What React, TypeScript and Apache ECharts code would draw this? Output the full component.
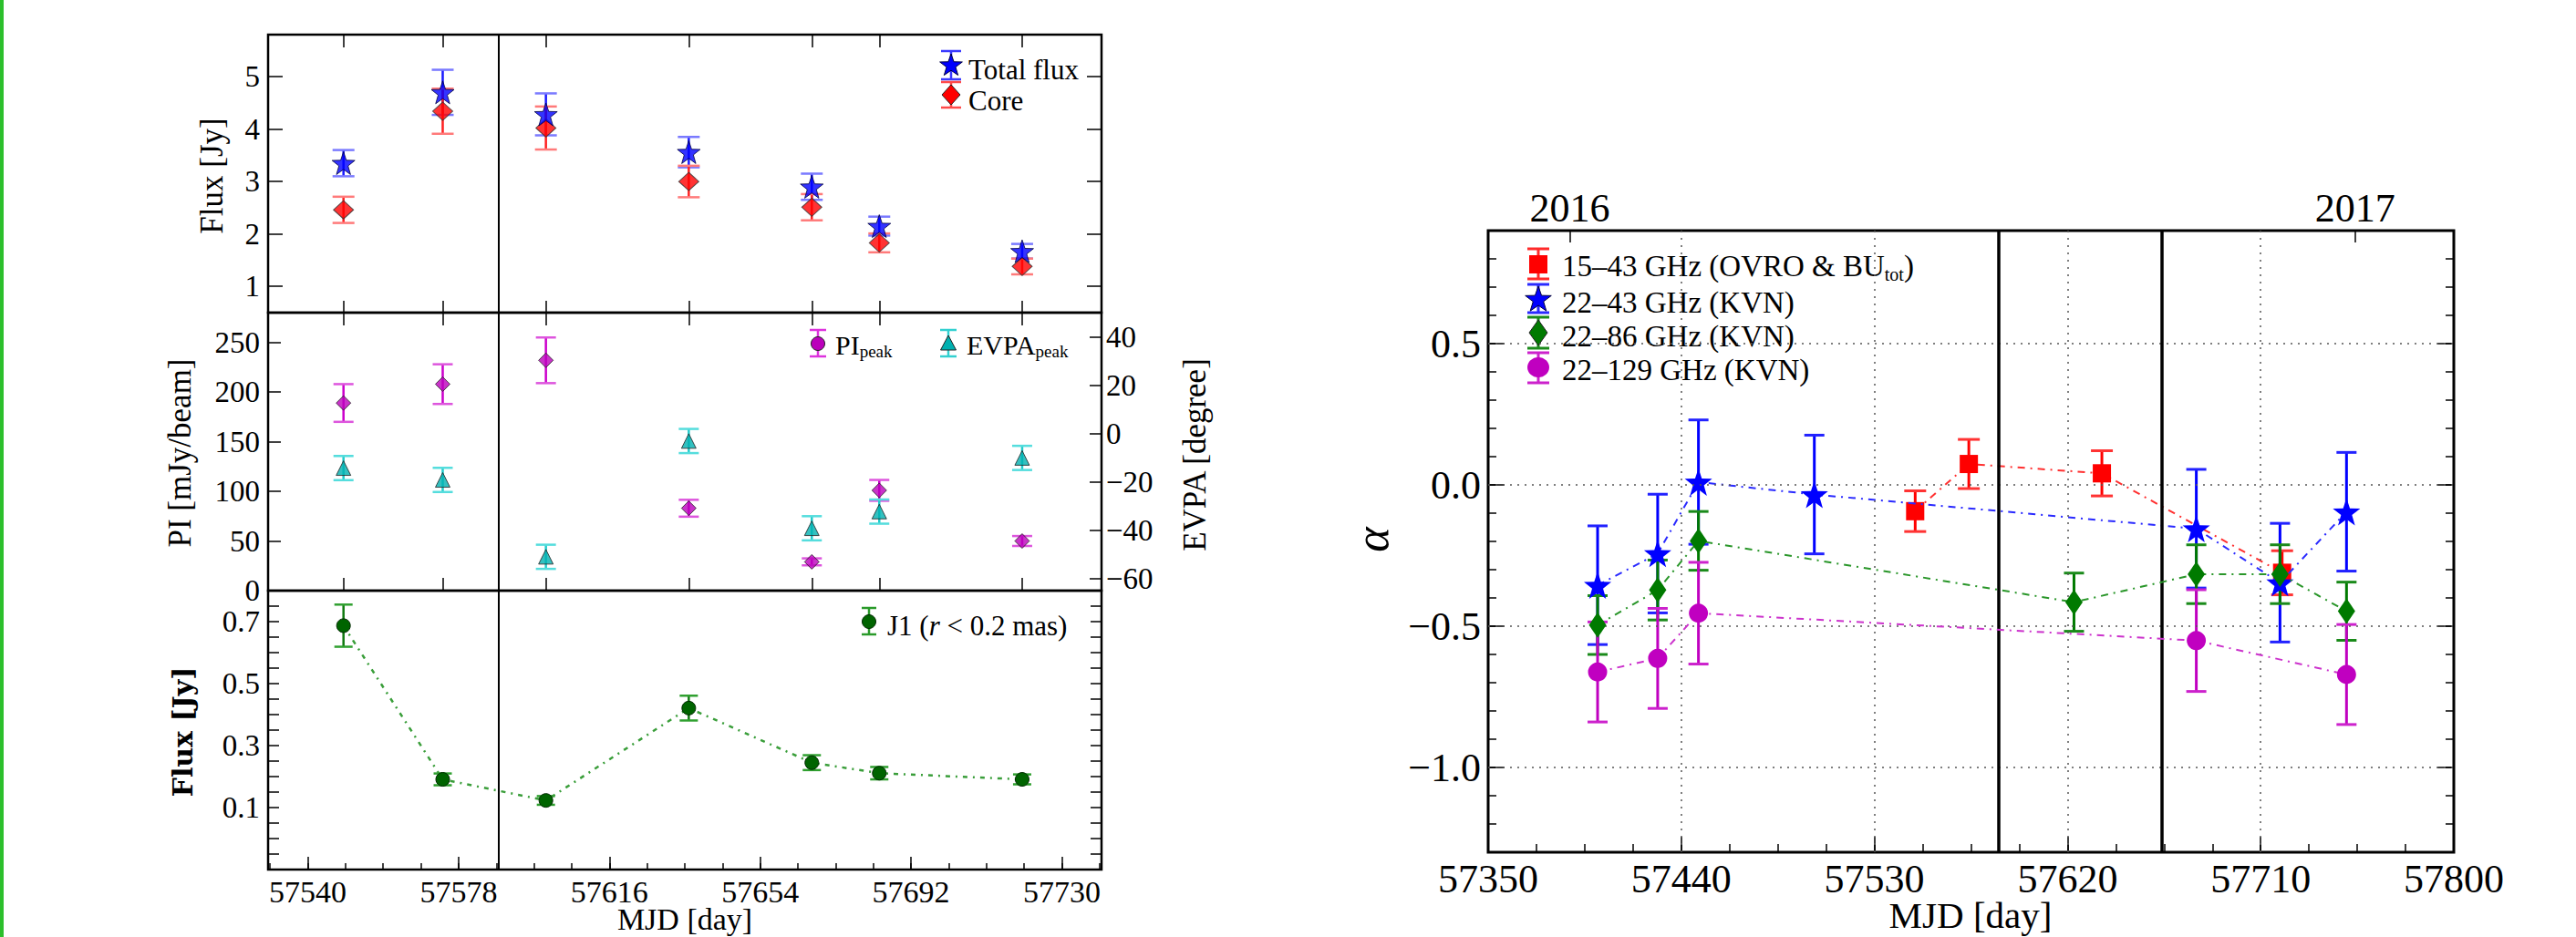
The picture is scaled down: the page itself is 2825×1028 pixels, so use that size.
import React, { useEffect, useRef } from 'react';
import * as echarts from 'echarts';

// ---------------- Left figure data ----------------
const epochs = [57549, 57574, 57600, 57636, 57667, 57684, 57720];
const totalFlux = [3.35, 4.70, 4.28, 3.56, 2.90, 2.15, 1.67];
const totalFluxErr = [0.25, 0.43, 0.40, 0.29, 0.25, 0.18, 0.14];
const coreFlux = [2.46, 4.34, 4.02, 3.00, 2.51, 1.83, 1.38];
const coreFluxErr = [0.25, 0.43, 0.41, 0.30, 0.25, 0.18, 0.15];
const piPeak = [189, 208, 232, 83, 29, 101, 50];
const piPeakErr = [19, 20, 23, 8.5, 3.5, 10.5, 5];
const evpaPeak = [-14.3, -19.2, -51.0, -3.1, -39.2, -32.3, -10.1];
const evpaPeakErr = [5, 5, 5, 5, 5, 5, 5];
const j1Flux = [0.687, 0.191, 0.123, 0.421, 0.245, 0.211, 0.191];
const j1FluxErr = [0.068, 0.019, 0.014, 0.040, 0.024, 0.020, 0.016];
const leftEventMjd = [57588];

const leftXTicks = [57540, 57578, 57616, 57654, 57692, 57730];
const leftXMinorStep = 9.5;
const fluxTicks = [1, 2, 3, 4, 5];
const piTicks = [0, 50, 100, 150, 200, 250];
const evpaTicks = [-60, -40, -20, 0, 20, 40];
const j1Labels = [0.1, 0.3, 0.5, 0.7];
const j1MinorStep = 0.05;

// ---------------- Right figure data ----------------
const mjdOvro = [57549, 57574, 57636, 57720];
const alphaOvro = [-0.093, 0.074, 0.041, -0.311];
const alphaOvroErr = [0.072, 0.087, 0.080, 0.078];
const mjdKvn43 = [57401, 57429, 57448, 57502, 57680, 57719, 57750];
const alphaKvn43 = [-0.355, -0.243, 0.010, -0.034, -0.155, -0.346, -0.095];
const alphaKvn43Err = [0.21, 0.21, 0.22, 0.21, 0.21, 0.21, 0.21];
const mjdKvn86 = [57401, 57429, 57448, 57623, 57680, 57719, 57750];
const alphaKvn86 = [-0.496, -0.372, -0.198, -0.415, -0.316, -0.316, -0.447];
const alphaKvn86Err = [0.104, 0.106, 0.104, 0.103, 0.104, 0.104, 0.103];
const mjdKvn129 = [57401, 57429, 57448, 57680, 57750];
const alphaKvn129 = [-0.662, -0.614, -0.454, -0.551, -0.671];
const alphaKvn129Err = [0.177, 0.177, 0.180, 0.180, 0.177];
const rightEventMjd = [57588, 57664];
const rightXTicks = [57350, 57440, 57530, 57620, 57710, 57800];
const rightXMinorStep = 22.5;
const gridXLines = [57440, 57530, 57620, 57710];
const alphaTicks = [-1.0, -0.5, 0.0, 0.5];
const alphaMinorStep = 0.1;
const yearTicks = [57388, 57754];
const yearLabels = ['2016', '2017'];

const FONT = "'Liberation Serif', 'Times New Roman', serif";
const STAR_PATH = (() => {
  const pts: string[] = [];
  for (let i = 0; i < 10; i++) {
    const r = i % 2 === 0 ? 50 : 20;
    const a = -Math.PI / 2 + (i * Math.PI) / 5;
    pts.push(`${(50 + r * Math.cos(a)).toFixed(2)},${(52 + r * Math.sin(a)).toFixed(2)}`);
  }
  return 'path://M' + pts.join(' L') + ' Z';
})();

function steps(from: number, to: number, step: number) {
  const out: number[] = [];
  for (let v = from; v <= to + 1e-9; v += step) out.push(Math.round(v * 1000) / 1000);
  return out;
}

const minus = (v: number, d: number) => (v < 0 ? '\u2212' : '') + Math.abs(v).toFixed(d);

function tickAxis(o: any) {
  const fmt = o.fmt || ((v: number) => String(v));
  return {
    type: 'value',
    gridIndex: o.grid,
    position: o.position,
    min: o.min,
    max: o.max,
    axisLine: { show: false, onZero: false },
    splitLine: { show: false },
    axisTick: {
      show: true,
      inside: true,
      length: o.length,
      customValues: o.ticks,
      lineStyle: { color: '#000', width: 1.5 },
    },
    axisLabel: o.labels
      ? {
          show: true,
          customValues: o.labels,
          formatter: (v: number) => '{f|' + fmt(v) + '}',
          fontFamily: FONT,
          fontSize: o.fontSize,
          color: '#000',
          margin: o.margin,
          rich: {
            f: { fontFamily: FONT, fontSize: o.fontSize, color: '#000', lineHeight: o.fontSize },
          },
        }
      : { show: false },
  };
}

function errSeries(xs: number[], ys: number[], es: number[], xi: number, yi: number, color: string, capColor: string, capW: number, lw: number) {
  return {
    type: 'custom',
    xAxisIndex: xi,
    yAxisIndex: yi,
    z: 2,
    silent: true,
    data: xs.map((x, i) => [x, ys[i], es[i]]),
    encode: { x: 0, y: 1 },
    renderItem: (_p: any, api: any) => {
      const x = api.value(0), y = api.value(1), e = api.value(2);
      const lo = api.coord([x, y - e]);
      const hi = api.coord([x, y + e]);
      const h = capW / 2;
      return {
        type: 'group',
        children: [
          { type: 'line', shape: { x1: lo[0], y1: lo[1], x2: hi[0], y2: hi[1] }, style: { stroke: color, lineWidth: lw } },
          { type: 'line', shape: { x1: lo[0] - h, y1: lo[1], x2: lo[0] + h, y2: lo[1] }, style: { stroke: capColor, lineWidth: lw } },
          { type: 'line', shape: { x1: hi[0] - h, y1: hi[1], x2: hi[0] + h, y2: hi[1] }, style: { stroke: capColor, lineWidth: lw } },
        ],
      };
    },
  };
}

function legendBar(cx: number, y1: number, y2: number, capW: number, color: string, lw = 2.5) {
  const h = capW / 2;
  return [
    { type: 'line', shape: { x1: cx, y1, x2: cx, y2 }, style: { stroke: color, lineWidth: lw } },
    { type: 'line', shape: { x1: cx - h, y1, x2: cx + h, y2: y1 }, style: { stroke: color, lineWidth: lw } },
    { type: 'line', shape: { x1: cx - h, y1: y2, x2: cx + h, y2 }, style: { stroke: color, lineWidth: lw } },
  ];
}

function starPoly(cx: number, cy: number, R: number, fill: string) {
  const pts: number[][] = [];
  for (let i = 0; i < 10; i++) {
    const r = i % 2 === 0 ? R : R * 0.4;
    const a = -Math.PI / 2 + (i * Math.PI) / 5;
    pts.push([cx + r * Math.cos(a), cy + r * Math.sin(a)]);
  }
  return { type: 'polygon', shape: { points: pts }, style: { fill, stroke: '#000040', lineWidth: 1 } };
}

function diamondPoly(cx: number, cy: number, hw: number, hh: number, fill: string) {
  return {
    type: 'polygon',
    shape: { points: [[cx, cy - hh], [cx + hw, cy], [cx, cy + hh], [cx - hw, cy]] },
    style: { fill, stroke: '#222', lineWidth: 1 },
  };
}

function vText(x: number, y: number, text: string, size: number, extra: any = {}) {
  return {
    type: 'text',
    x,
    y,
    rotation: Math.PI / 2,
    style: {
      text,
      fontFamily: FONT,
      fontSize: size,
      fill: '#000',
      align: 'center',
      verticalAlign: 'middle',
      ...extra,
    },
  };
}

function hText(x: number, y: number, text: string, size: number, extra: any = {}) {
  return {
    type: 'text',
    x,
    y,
    style: {
      text,
      fontFamily: FONT,
      fontSize: size,
      fill: '#000',
      align: 'left',
      verticalAlign: 'middle',
      ...extra,
    },
  };
}

function subRich(size: number) {
  return {
    m: { fontFamily: FONT, fontSize: size, lineHeight: size + 4 },
    s: { fontFamily: FONT, fontSize: Math.round(size * 0.62), lineHeight: 10, verticalAlign: 'bottom' },
    i: { fontFamily: FONT, fontSize: size, fontStyle: 'italic', lineHeight: size + 4 },
  };
}

function buildOption() {
  const L = { min: 57530, max: 57740 };
  const R = { min: 57350, max: 57800 };
  const leftMinor = steps(57540 - 9.5, 57740, leftXMinorStep);
  const j1Minor = steps(-0.05, 0.75, j1MinorStep);
  const rightMinor = steps(57350, 57800, rightXMinorStep);
  const alphaMinor = steps(-1.2, 0.8, alphaMinorStep);

  const xAxis = [
    tickAxis({ grid: 0, position: 'bottom', ...L, ticks: epochs, length: 13 }),
    tickAxis({ grid: 0, position: 'top', ...L, ticks: epochs, length: 14 }),
    tickAxis({ grid: 1, position: 'bottom', ...L, ticks: epochs, length: 14 }),
    tickAxis({ grid: 1, position: 'top', ...L, ticks: epochs, length: 14 }),
    tickAxis({ grid: 2, position: 'bottom', ...L, ticks: leftXTicks, length: 14, labels: leftXTicks, fontSize: 34, margin: 7 }),
    tickAxis({ grid: 2, position: 'bottom', ...L, ticks: leftMinor, length: 7 }),
    tickAxis({ grid: 3, position: 'bottom', ...R, ticks: rightXTicks, length: 17, labels: rightXTicks, fontSize: 44, margin: 7 }),
    tickAxis({ grid: 3, position: 'bottom', ...R, ticks: rightMinor, length: 9 }),
    tickAxis({
      grid: 3, position: 'top', ...R, ticks: yearTicks, length: 13, labels: yearTicks, fontSize: 44, margin: 3,
      fmt: (v: number) => yearLabels[yearTicks.indexOf(v)] ?? '',
    }),
  ];

  const yAxis = [
    tickAxis({ grid: 0, position: 'left', min: 0.5, max: 5.8, ticks: fluxTicks, length: 16, labels: fluxTicks, fontSize: 33, margin: 9 }),
    tickAxis({ grid: 0, position: 'right', min: 0.5, max: 5.8, ticks: fluxTicks, length: 16 }),
    tickAxis({ grid: 1, position: 'left', min: 0, max: 280, ticks: piTicks, length: 14, labels: piTicks, fontSize: 33, margin: 9 }),
    tickAxis({
      grid: 1, position: 'right', min: -65, max: 50, ticks: evpaTicks, length: 13, labels: evpaTicks, fontSize: 33, margin: 5,
      fmt: (v: number) => minus(v, 0),
    }),
    tickAxis({
      grid: 2, position: 'left', min: -0.1, max: 0.8, ticks: j1Minor, length: 12, labels: j1Labels, fontSize: 33, margin: 9,
      fmt: (v: number) => v.toFixed(1),
    }),
    tickAxis({ grid: 2, position: 'right', min: -0.1, max: 0.8, ticks: j1Minor, length: 12 }),
    tickAxis({
      grid: 3, position: 'left', min: -1.3, max: 0.9, ticks: alphaTicks, length: 18, labels: alphaTicks, fontSize: 44, margin: 8,
      fmt: (v: number) => minus(v, 1),
    }),
    tickAxis({ grid: 3, position: 'left', min: -1.3, max: 0.9, ticks: alphaMinor, length: 9 }),
    tickAxis({ grid: 3, position: 'right', min: -1.3, max: 0.9, ticks: alphaTicks, length: 18 }),
    tickAxis({ grid: 3, position: 'right', min: -1.3, max: 0.9, ticks: alphaMinor, length: 9 }),
  ];

  const eventLine = (vals: number[], width: number) => ({
    silent: true,
    symbol: ['none', 'none'],
    label: { show: false },
    animation: false,
    lineStyle: { color: '#000', width, type: 'solid' },
    data: vals.map((v) => ({ xAxis: v })),
  });

  const dashDot = [8, 6, 2, 6];

  const series: any[] = [
    // ---- Top panel ----
    errSeries(epochs, totalFlux, totalFluxErr, 0, 0, '#1a1aff', '#7a7aff', 24, 2.5),
    errSeries(epochs, coreFlux, coreFluxErr, 0, 0, '#ff2020', '#ff7a7a', 24, 2.5),
    {
      type: 'scatter', xAxisIndex: 0, yAxisIndex: 0, z: 3,
      data: epochs.map((x, i) => [x, coreFlux[i]]),
      symbol: 'diamond', symbolSize: [22, 20],
      itemStyle: { color: '#ff0000', borderColor: '#333', borderWidth: 1 },
      markLine: eventLine(leftEventMjd, 2),
    },
    {
      type: 'scatter', xAxisIndex: 0, yAxisIndex: 0, z: 4,
      data: epochs.map((x, i) => [x, totalFlux[i]]),
      symbol: STAR_PATH, symbolSize: 25,
      itemStyle: { color: '#0000ff', borderColor: '#000040', borderWidth: 1 },
    },
    // ---- Middle panel ----
    errSeries(epochs, piPeak, piPeakErr, 2, 2, '#cc00cc', '#dd55dd', 22, 2.5),
    errSeries(epochs, evpaPeak, evpaPeakErr, 2, 3, '#22cccc', '#55dddd', 22, 2.5),
    {
      type: 'scatter', xAxisIndex: 2, yAxisIndex: 2, z: 3,
      data: epochs.map((x, i) => [x, piPeak[i]]),
      symbol: 'diamond', symbolSize: [16, 16],
      itemStyle: { color: '#bb00bb', borderColor: '#222', borderWidth: 1 },
      markLine: eventLine(leftEventMjd, 2),
    },
    {
      type: 'scatter', xAxisIndex: 2, yAxisIndex: 3, z: 3,
      data: epochs.map((x, i) => [x, evpaPeak[i]]),
      symbol: 'triangle', symbolSize: [16, 16],
      itemStyle: { color: '#00b0b0', borderColor: '#222', borderWidth: 1 },
    },
    // ---- Bottom panel ----
    errSeries(epochs, j1Flux, j1FluxErr, 4, 4, '#107a10', '#30a030', 20, 2.5),
    {
      type: 'line', xAxisIndex: 4, yAxisIndex: 4, z: 3,
      data: epochs.map((x, i) => [x, j1Flux[i]]),
      symbol: 'circle', symbolSize: 15,
      itemStyle: { color: '#006400', borderColor: '#002800', borderWidth: 1 },
      lineStyle: { color: '#3a9e3a', width: 2.5, type: [5, 6, 2, 6] },
      markLine: eventLine(leftEventMjd, 2),
    },
    // ---- Right figure ----
    {
      type: 'line', xAxisIndex: 6, yAxisIndex: 6, z: 1,
      data: mjdOvro.map((x, i) => [x, alphaOvro[i]]),
      symbol: 'none',
      lineStyle: { opacity: 0 },
      markLine: {
        silent: true, symbol: ['none', 'none'], label: { show: false }, animation: false,
        lineStyle: { color: '#555', width: 1.5, type: [2, 6] },
        data: [
          ...gridXLines.map((v) => ({ xAxis: v })),
          ...alphaTicks.map((v) => ({ yAxis: v })),
        ],
      },
    },
    {
      type: 'line', xAxisIndex: 6, yAxisIndex: 6, z: 2,
      data: mjdOvro.map((x, i) => [x, alphaOvro[i]]),
      symbol: 'none',
      lineStyle: { opacity: 0 },
      markLine: eventLine(rightEventMjd, 3.5),
    },
    errSeries(mjdOvro, alphaOvro, alphaOvroErr, 6, 6, '#ff0000', '#ff3333', 24, 3),
    errSeries(mjdKvn43, alphaKvn43, alphaKvn43Err, 6, 6, '#0000ff', '#2222ff', 22, 3),
    errSeries(mjdKvn86, alphaKvn86, alphaKvn86Err, 6, 6, '#007a00', '#1a8a1a', 22, 3),
    errSeries(mjdKvn129, alphaKvn129, alphaKvn129Err, 6, 6, '#c000c0', '#cc22cc', 22, 3),
    {
      type: 'line', xAxisIndex: 6, yAxisIndex: 6, z: 3,
      data: mjdOvro.map((x, i) => [x, alphaOvro[i]]),
      symbol: 'rect', symbolSize: [20, 20],
      itemStyle: { color: '#ff0000' },
      lineStyle: { color: '#ff3030', width: 2, type: dashDot },
    },
    {
      type: 'line', xAxisIndex: 6, yAxisIndex: 6, z: 4,
      data: mjdKvn43.map((x, i) => [x, alphaKvn43[i]]),
      symbol: STAR_PATH, symbolSize: 30,
      itemStyle: { color: '#0000ff' },
      lineStyle: { color: '#2a2aff', width: 2, type: dashDot },
    },
    {
      type: 'line', xAxisIndex: 6, yAxisIndex: 6, z: 5,
      data: mjdKvn86.map((x, i) => [x, alphaKvn86[i]]),
      symbol: 'diamond', symbolSize: [19, 28],
      itemStyle: { color: '#007a00' },
      lineStyle: { color: '#2a962a', width: 2, type: dashDot },
    },
    {
      type: 'line', xAxisIndex: 6, yAxisIndex: 6, z: 6,
      data: mjdKvn129.map((x, i) => [x, alphaKvn129[i]]),
      symbol: 'circle', symbolSize: [21, 21],
      itemStyle: { color: '#c000c0' },
      lineStyle: { color: '#cc33cc', width: 2, type: dashDot },
    },
  ];

  const graphic: any[] = [
    { type: 'rect', shape: { x: 0, y: 0, width: 4, height: 1028 }, style: { fill: '#2cbf2c' }, z: 10 },
    // left figure titles
    vText(232, 193, 'Flux [Jy]', 35),
    vText(197, 497, 'PI [mJy/beam]', 35),
    vText(1310, 499, 'EVPA [degree]', 35),
    vText(200, 803, 'Flux [Jy]', 30, { fontWeight: 'bold', fontFamily: "'DejaVu Serif', serif" }),
    { type: 'text', x: 751, y: 1025, style: { text: 'MJD [day]', fontFamily: FONT, fontSize: 34, fill: '#000', align: 'center', verticalAlign: 'bottom' } },
    // right figure titles
    vText(1504, 592, '\u03b1', 52, { fontStyle: 'italic' }),
    { type: 'text', x: 2161, y: 1024, style: { text: 'MJD [day]', fontFamily: FONT, fontSize: 41, fill: '#000', align: 'center', verticalAlign: 'bottom' } },
    // top legend
    ...legendBar(1043, 56, 87, 22, '#3a3aff'),
    starPoly(1043, 72, 13, '#0000ff'),
    hText(1062, 76, 'Total flux', 31),
    ...legendBar(1043, 90, 118, 22, '#ff4a4a'),
    diamondPoly(1043, 104, 10, 11, '#ff0000'),
    hText(1062, 110, 'Core', 31),
    // middle legend
    ...legendBar(897, 362, 391, 18, '#dd33dd'),
    { type: 'circle', shape: { cx: 897, cy: 377, r: 7.5 }, style: { fill: '#bb00bb', stroke: '#222', lineWidth: 1 } },
    hText(916, 378, '{m|PI}{s|peak}', 30, { rich: subRich(30) }),
    ...legendBar(1040, 362, 391, 18, '#33d0d0'),
    { type: 'polygon', shape: { points: [[1040, 368], [1048.5, 384], [1031.5, 384]] }, style: { fill: '#00b0b0', stroke: '#222', lineWidth: 1 } },
    hText(1060, 378, '{m|EVPA}{s|peak}', 30, { rich: subRich(30) }),
    // bottom legend
    ...legendBar(953, 667, 696, 16, '#2a9a2a'),
    { type: 'circle', shape: { cx: 953, cy: 682, r: 7.5 }, style: { fill: '#006400', stroke: '#002800', lineWidth: 1 } },
    hText(973, 686, '{m|J1 (}{i|r}{m| < 0.2 mas)}', 31, { rich: subRich(31) }),
    // right legend
    ...legendBar(1687, 273, 306, 24, '#ff2a2a', 3),
    { type: 'rect', shape: { x: 1677, y: 280, width: 20, height: 20 }, style: { fill: '#ff0000' } },
    hText(1713, 292, '{m|15\u201343 GHz (OVRO & BU}{s|tot}{m|)}', 33, { rich: subRich(33) }),
    ...legendBar(1687, 312, 343, 24, '#2a2aff', 3),
    starPoly(1687, 329, 15, '#0000ff'),
    hText(1713, 332, '22\u201343 GHz (KVN)', 33),
    ...legendBar(1687, 348, 382, 24, '#1a8a1a', 3),
    diamondPoly(1687, 365, 10, 14, '#007a00'),
    hText(1713, 369, '22\u201386 GHz (KVN)', 33),
    ...legendBar(1687, 387, 420, 24, '#cc22cc', 3),
    { type: 'ellipse', shape: { cx: 1687, cy: 403, rx: 12, ry: 11 }, style: { fill: '#c000c0' } },
    hText(1713, 406, '22\u2013129 GHz (KVN)', 33),
  ];

  const gridBase = { show: true, borderColor: '#000', backgroundColor: 'transparent' };
  return {
    animation: false,
    backgroundColor: '#ffffff',
    textStyle: { fontFamily: FONT },
    grid: [
      { ...gridBase, borderWidth: 2.5, left: 294, top: 38, width: 914, height: 305 },
      { ...gridBase, borderWidth: 2.5, left: 294, top: 343, width: 914, height: 305 },
      { ...gridBase, borderWidth: 2.5, left: 294, top: 648, width: 914, height: 306 },
      { ...gridBase, borderWidth: 3, left: 1632, top: 253, width: 1059, height: 682 },
    ],
    xAxis,
    yAxis,
    series,
    graphic: { elements: graphic },
  };
}

export default function App() {
  const ref = useRef<HTMLDivElement>(null);
  useEffect(() => {
    if (!ref.current) return;
    const chart = echarts.init(ref.current, null, { renderer: 'svg', width: 2825, height: 1028 });
    chart.setOption(buildOption() as any);
    return () => chart.dispose();
  }, []);
  return (
    <div
      ref={ref}
      style={{ position: 'absolute', left: 0, top: 0, width: 2825, height: 1028, background: '#fff' }}
    />
  );
}
